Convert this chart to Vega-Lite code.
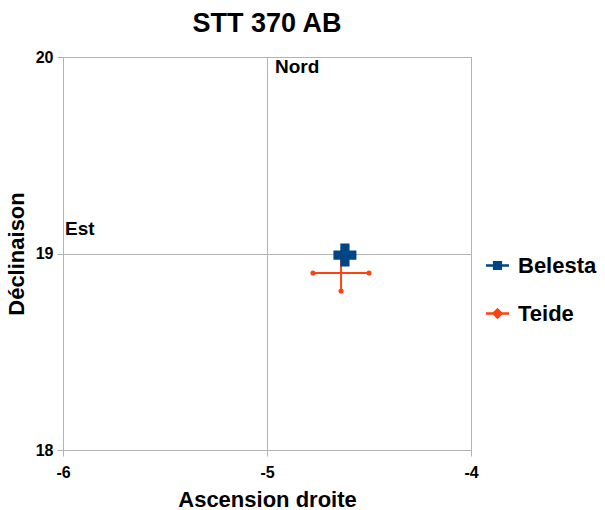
{
  "$schema": "https://vega.github.io/schema/vega-lite/v6.json",
  "width": 408,
  "height": 393,
  "autosize": {"type": "none"},
  "padding": {"left": 63, "top": 57, "right": 134, "bottom": 60},
  "background": "white",
  "title": {
    "text": "STT 370 AB",
    "font": "Liberation Sans",
    "fontSize": 27,
    "fontWeight": "bold",
    "color": "#000000",
    "anchor": "middle",
    "frame": "group",
    "baseline": "alphabetic",
    "offset": -10
  },
  "config": {
    "view": {"stroke": "#b3b3b3", "strokeWidth": 1},
    "font": "Liberation Sans",
    "axis": {
      "labelFont": "Liberation Sans",
      "labelFontSize": 16,
      "labelFontWeight": "bold",
      "labelColor": "#000000",
      "labelFlush": false,
      "titleFont": "Liberation Sans",
      "titleFontSize": 22,
      "titleFontWeight": "bold",
      "titleColor": "#000000",
      "gridColor": "#b3b3b3",
      "gridOpacity": 1,
      "gridWidth": 1,
      "tickColor": "#b3b3b3",
      "tickSize": 6,
      "domainColor": "#b3b3b3"
    },
    "legend": {
      "labelFont": "Liberation Sans",
      "labelFontSize": 22,
      "labelFontWeight": "bold",
      "labelColor": "#000000"
    }
  },
  "datasets": {
    "series": [
      {"series": "Belesta", "x": -4.618, "y": 18.992},
      {"series": "Teide", "x": -4.637, "y": 18.901, "xlo": -4.775, "xhi": -4.5, "ylo": 18.809, "yhi": 18.993}
    ],
    "notes": [
      {"label": "Nord", "x": -4.961, "y": 19.919},
      {"label": "Est", "x": -5.99, "y": 19.094}
    ]
  },
  "encoding": {
    "x": {
      "type": "quantitative",
      "scale": {"domain": [-6, -4], "nice": false, "zero": false},
      "axis": {"title": "Ascension droite", "values": [-6, -5, -4], "labelExpr": "'' + datum.value", "labelPadding": 8, "titlePadding": 9}
    },
    "y": {
      "type": "quantitative",
      "scale": {"domain": [18, 20], "nice": false, "zero": false},
      "axis": {"title": "Déclinaison", "values": [18, 19, 20], "labelExpr": "'' + datum.value", "labelPadding": 4, "titlePadding": 7}
    }
  },
  "layer": [
    {
      "data": {"name": "series"},
      "transform": [{"filter": "datum.series == 'Teide'"}],
      "mark": {"type": "rule", "color": "#ff420e", "strokeWidth": 2},
      "encoding": {"x": {"field": "xlo"}, "x2": {"field": "xhi"}, "y": {"field": "y"}}
    },
    {
      "data": {"name": "series"},
      "transform": [{"filter": "datum.series == 'Teide'"}],
      "mark": {"type": "rule", "color": "#ff420e", "strokeWidth": 2},
      "encoding": {"x": {"field": "x"}, "y": {"field": "ylo"}, "y2": {"field": "yhi"}}
    },
    {
      "data": {"name": "series"},
      "transform": [{"filter": "datum.series == 'Teide'"}],
      "mark": {"type": "point", "filled": true, "color": "#ff420e", "size": 26, "opacity": 1},
      "encoding": {"x": {"field": "xlo"}, "y": {"field": "y"}}
    },
    {
      "data": {"name": "series"},
      "transform": [{"filter": "datum.series == 'Teide'"}],
      "mark": {"type": "point", "filled": true, "color": "#ff420e", "size": 26, "opacity": 1},
      "encoding": {"x": {"field": "xhi"}, "y": {"field": "y"}}
    },
    {
      "data": {"name": "series"},
      "transform": [{"filter": "datum.series == 'Teide'"}],
      "mark": {"type": "point", "filled": true, "color": "#ff420e", "size": 26, "opacity": 1},
      "encoding": {"x": {"field": "x"}, "y": {"field": "ylo"}}
    },
    {
      "data": {"name": "series"},
      "mark": {"type": "point", "filled": true, "size": 30, "opacity": 1},
      "encoding": {
        "x": {"field": "x"},
        "y": {"field": "y"},
        "color": {
          "field": "series",
          "type": "nominal",
          "scale": {"domain": ["Belesta", "Teide"], "range": ["#004586", "#ff420e"]},
          "legend": {
            "title": null,
            "orient": "none",
            "legendX": 422,
            "legendY": 196,
            "symbolSize": 529,
            "rowPadding": 24,
            "labelOffset": 8,
            "padding": 0,
            "symbolOpacity": 1
          }
        },
        "shape": {
          "field": "series",
          "type": "nominal",
          "scale": {
            "domain": ["Belesta", "Teide"],
            "range": [
              "M-1,-0.1H1V0.1H-1Z M-0.4,-0.4H0.4V0.4H-0.4Z",
              "M-1,-0.1H1V0.1H-1Z M0,-0.5L0.5,0L0,0.5L-0.5,0Z"
            ]
          }
        }
      }
    },
    {
      "data": {"name": "series"},
      "transform": [{"filter": "datum.series == 'Belesta'"}],
      "mark": {"type": "point", "shape": "cross", "filled": true, "color": "#004586", "size": 529, "opacity": 1},
      "encoding": {"x": {"field": "x"}, "y": {"field": "y"}}
    },
    {
      "data": {"name": "notes"},
      "mark": {"type": "text", "align": "left", "baseline": "alphabetic", "font": "Liberation Sans", "fontSize": 19, "fontWeight": "bold", "color": "#000000"},
      "encoding": {"x": {"field": "x"}, "y": {"field": "y"}, "text": {"field": "label"}}
    }
  ]
}
